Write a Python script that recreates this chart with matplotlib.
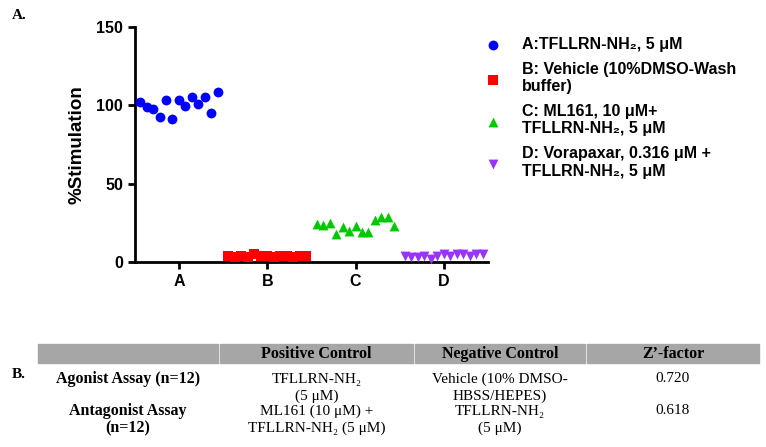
import numpy as np
import matplotlib.pyplot as plt
from matplotlib.patches import Rectangle

plt.rcParams['font.family'] = ['Liberation Sans', 'DejaVu Sans']

# Панель A: данные по группам
groups = ['A', 'B', 'C', 'D']
a_vals = [102.1, 98.7, 97.4, 92.3, 103.2, 91.0, 103.2, 99.4, 105.1, 100.6, 105.1, 94.9, 108.3]
b_vals = [4, 3, 4, 3, 5, 4, 4, 3, 4, 4, 3, 4, 4]
c_vals = [24.2, 23.5, 24.6, 18.1, 22.0, 19.9, 23.1, 18.8, 19.2, 26.7, 28.4, 28.4, 23.1]
d_vals = [4, 3, 3, 4, 2, 4, 5, 4, 5, 5, 4, 5, 5]
labels = ['A:TFLLRN-NH₂, 5 μM',
          'B: Vehicle (10%DMSO-Wash\nbuffer)',
          'C: ML161, 10 μM+\nTFLLRN-NH₂, 5 μM',
          'D: Vorapaxar, 0.316 μM +\nTFLLRN-NH₂, 5 μM']

# Панель B: таблица
col_headers = ['', 'Positive Control', 'Negative Control', 'Z’-factor']
row_names = [['Agonist Assay (n=12)'], ['Antagonist Assay', '(n=12)']]
pos_ctrl = [['TFLLRN-NH₂', '(5 μM)'], ['ML161 (10 μM) +', 'TFLLRN-NH₂ (5 μM)']]
neg_ctrl = [['Vehicle (10% DMSO-', 'HBSS/HEPES)'], ['TFLLRN-NH₂', '(5 μM)']]
z_factor = [['0.720'], ['0.618']]

fig = plt.figure(figsize=(7.66, 4.47), dpi=100)
ax = fig.add_axes([0.176, 0.414, 0.461, 0.526])

styles = [('o', '#0000ff', 50), ('s', '#ff0000', 50), ('^', '#00c800', 50), ('v', '#9933ff', 50)]
handles = []
for i, (vals, (m, c, s)) in enumerate(zip([a_vals, b_vals, c_vals, d_vals], styles)):
    x = i + 1 + np.linspace(-0.44, 0.44, len(vals))
    h = ax.scatter(x, vals, marker=m, color=c, s=s, linewidths=0, clip_on=False, zorder=3)
    handles.append(h)

ax.set_xlim(0.5, 4.5)
ax.set_ylim(0, 150)
ax.set_yticks([0, 50, 100, 150])
ax.set_xticks([1, 2, 3, 4])
ax.set_xticklabels(groups)
ax.spines['top'].set_visible(False)
ax.spines['right'].set_visible(False)
ax.spines['left'].set_linewidth(2)
ax.spines['bottom'].set_linewidth(2)
ax.tick_params(width=2, length=5, labelsize=11.5)
for t in ax.get_xticklabels() + ax.get_yticklabels():
    t.set_fontweight('bold')
ax.set_ylabel('%Stimulation', fontsize=13.5, fontweight='bold', labelpad=8)

fig.legend(handles, labels, loc='upper left', bbox_to_anchor=(0.615, 0.932), frameon=False,
           prop={'weight': 'bold', 'size': 11.5}, handletextpad=0.8, labelspacing=0.62,
           scatterpoints=1, borderaxespad=0)

serif = ['Liberation Serif', 'DejaVu Serif']
fig.text(0.016, 0.965, 'A.', fontsize=11, fontweight='bold', family=serif, va='center')
fig.text(0.016, 0.162, 'B.', fontsize=11, fontweight='bold', family=serif, va='center')

# таблица
H = 447.0
W = 766.0
col_edges = [37, 219, 414, 586, 760]
for j in range(4):
    fig.patches.append(Rectangle((col_edges[j] / W + 0.001, 1 - 363 / H), (col_edges[j + 1] - col_edges[j]) / W - 0.002,
                                 19 / H, transform=fig.transFigure, color='#a6a6a6', zorder=0))
centers = [(col_edges[j] + col_edges[j + 1]) / 2 / W for j in range(4)]
for j, head in enumerate(col_headers):
    fig.text(centers[j], 1 - 354.5 / H, head, ha='center', va='center', fontsize=11.5,
             fontweight='bold', family=serif)

row_y = [379, 411]
pitch = 17
for i in range(2):
    cells = [(row_names[i], 'bold', 11.5), (pos_ctrl[i], 'normal', 11), (neg_ctrl[i], 'normal', 11),
             (z_factor[i], 'normal', 11)]
    for j, (lines, wt, fs) in enumerate(cells):
        for k, line in enumerate(lines):
            fig.text(centers[j], 1 - (row_y[i] + k * pitch) / H, line, ha='center', va='center',
                     fontsize=fs, fontweight=wt, family=serif)

plt.savefig('out.png', dpi=100)
